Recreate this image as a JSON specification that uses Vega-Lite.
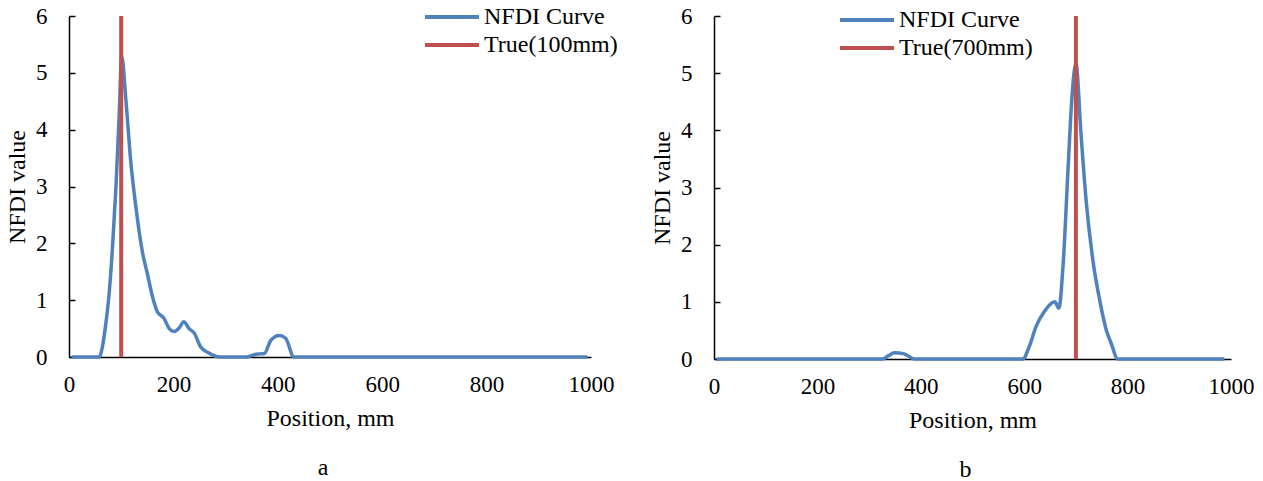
{
  "$schema": "https://vega.github.io/schema/vega-lite/v6.json",
  "background": "white",
  "padding": {"left": 5, "top": 5, "right": 0, "bottom": 0},
  "spacing": 32,
  "config": {
    "view": {"stroke": null},
    "font": "'Liberation Serif', 'Times New Roman', serif",
    "axis": {
      "labelFont": "'Liberation Serif', 'Times New Roman', serif", "labelFontSize": 23, "labelColor": "black",
      "titleFont": "'Liberation Serif', 'Times New Roman', serif", "titleFontSize": 24, "titleFontWeight": "normal", "titleColor": "black",
      "domainColor": "black", "domainWidth": 1.5, "tickColor": "black", "tickWidth": 1.5, "grid": false, "format": "d"
    },
    "axisX": {"ticks": false, "labelPadding": 16, "titlePadding": 10, "labelFlush": false, "labelOverlap": false},
    "axisY": {"tickSize": -6, "labelPadding": 28, "titlePadding": 6, "labelOverlap": false},
    "legend": {
      "orient": "none", "title": null, "padding": 0,
      "labelFont": "'Liberation Serif', 'Times New Roman', serif", "labelFontSize": 24, "labelColor": "black",
      "symbolType": "M-3,0H3", "symbolSize": 324, "symbolStrokeWidth": 4,
      "labelOffset": 20, "rowPadding": 4
    },
    "title": {"font": "'Liberation Serif', 'Times New Roman', serif", "fontSize": 24, "fontWeight": "normal", "color": "black", "orient": "bottom", "offset": 26, "frame": "group", "dx": -7}
  },
  "resolve": {"scale": {"color": "independent"}},
  "hconcat": [
    {
      "width": 522, "height": 341,
      "title": {"text": "a"},
      "layer": [
        {
          "data": {"values": [
            {"pos": 5, "v": 0}, {"pos": 30, "v": 0}, {"pos": 58, "v": 0}, {"pos": 64, "v": 0.18},
            {"pos": 70, "v": 0.55}, {"pos": 77, "v": 1.13}, {"pos": 83, "v": 1.88}, {"pos": 90, "v": 3.0},
            {"pos": 96, "v": 4.23}, {"pos": 101, "v": 5.29}, {"pos": 109, "v": 4.52}, {"pos": 118, "v": 3.47},
            {"pos": 128, "v": 2.65}, {"pos": 141, "v": 1.83}, {"pos": 150, "v": 1.47}, {"pos": 160, "v": 1.06},
            {"pos": 169, "v": 0.80}, {"pos": 182, "v": 0.68}, {"pos": 192, "v": 0.50}, {"pos": 201, "v": 0.45},
            {"pos": 211, "v": 0.51}, {"pos": 220, "v": 0.62}, {"pos": 230, "v": 0.50}, {"pos": 240, "v": 0.42},
            {"pos": 252, "v": 0.18}, {"pos": 268, "v": 0.07}, {"pos": 288, "v": 0}, {"pos": 339, "v": 0},
            {"pos": 358, "v": 0.05}, {"pos": 374, "v": 0.06}, {"pos": 387, "v": 0.30}, {"pos": 403, "v": 0.38},
            {"pos": 415, "v": 0.33}, {"pos": 431, "v": 0}, {"pos": 500, "v": 0}, {"pos": 600, "v": 0},
            {"pos": 700, "v": 0}, {"pos": 800, "v": 0}, {"pos": 900, "v": 0}, {"pos": 993, "v": 0}
          ]},
          "transform": [{"calculate": "'NFDI Curve'", "as": "s"}],
          "mark": {"type": "line", "interpolate": "monotone", "strokeWidth": 3.5},
          "encoding": {
            "x": {"field": "pos", "type": "quantitative", "scale": {"domain": [0, 1000], "nice": false},
                  "axis": {"title": "Position, mm", "values": [0, 200, 400, 600, 800, 1000]}},
            "y": {"field": "v", "type": "quantitative", "scale": {"domain": [0, 6], "nice": false},
                  "axis": {"title": "NFDI value", "values": [0, 1, 2, 3, 4, 5, 6]}},
            "color": {"field": "s", "type": "nominal",
                      "scale": {"domain": ["NFDI Curve", "True(100mm)"], "range": ["#4F81BD", "#C0504D"]},
                      "legend": {"legendX": 371, "legendY": -11}}
          }
        },
        {
          "data": {"values": [{"pos": 100, "v": 0, "v2": 6, "s": "True(100mm)"}]},
          "mark": {"type": "rule", "strokeWidth": 4},
          "encoding": {
            "x": {"field": "pos", "type": "quantitative"},
            "y": {"field": "v", "type": "quantitative"},
            "y2": {"field": "v2"},
            "color": {"field": "s", "type": "nominal"}
          }
        }
      ]
    },
    {
      "width": 517, "height": 343,
      "title": {"text": "b"},
      "layer": [
        {
          "data": {"values": [
            {"pos": 5, "v": 0}, {"pos": 100, "v": 0}, {"pos": 200, "v": 0}, {"pos": 326, "v": 0},
            {"pos": 338, "v": 0.06}, {"pos": 349, "v": 0.11}, {"pos": 368, "v": 0.09}, {"pos": 388, "v": 0},
            {"pos": 450, "v": 0}, {"pos": 500, "v": 0}, {"pos": 597, "v": 0}, {"pos": 610, "v": 0.22},
            {"pos": 623, "v": 0.57}, {"pos": 639, "v": 0.83}, {"pos": 659, "v": 1.0}, {"pos": 667, "v": 0.89},
            {"pos": 675, "v": 1.61}, {"pos": 685, "v": 3.36}, {"pos": 692, "v": 4.53}, {"pos": 700, "v": 5.17},
            {"pos": 710, "v": 3.92}, {"pos": 720, "v": 2.75}, {"pos": 733, "v": 1.72}, {"pos": 746, "v": 1.03},
            {"pos": 759, "v": 0.50}, {"pos": 768, "v": 0.28}, {"pos": 781, "v": 0}, {"pos": 850, "v": 0},
            {"pos": 900, "v": 0}, {"pos": 987, "v": 0}
          ]},
          "transform": [{"calculate": "'NFDI Curve'", "as": "s"}],
          "mark": {"type": "line", "interpolate": "monotone", "strokeWidth": 3.5},
          "encoding": {
            "x": {"field": "pos", "type": "quantitative", "scale": {"domain": [0, 1000], "nice": false},
                  "axis": {"title": "Position, mm", "values": [0, 200, 400, 600, 800, 1000]}},
            "y": {"field": "v", "type": "quantitative", "scale": {"domain": [0, 6], "nice": false},
                  "axis": {"title": "NFDI value", "values": [0, 1, 2, 3, 4, 5, 6]}},
            "color": {"field": "s", "type": "nominal",
                      "scale": {"domain": ["NFDI Curve", "True(700mm)"], "range": ["#4F81BD", "#C0504D"]},
                      "legend": {"legendX": 141, "legendY": -8}}
          }
        },
        {
          "data": {"values": [{"pos": 700, "v": 0, "v2": 6, "s": "True(700mm)"}]},
          "mark": {"type": "rule", "strokeWidth": 4},
          "encoding": {
            "x": {"field": "pos", "type": "quantitative"},
            "y": {"field": "v", "type": "quantitative"},
            "y2": {"field": "v2"},
            "color": {"field": "s", "type": "nominal"}
          }
        }
      ]
    }
  ]
}
